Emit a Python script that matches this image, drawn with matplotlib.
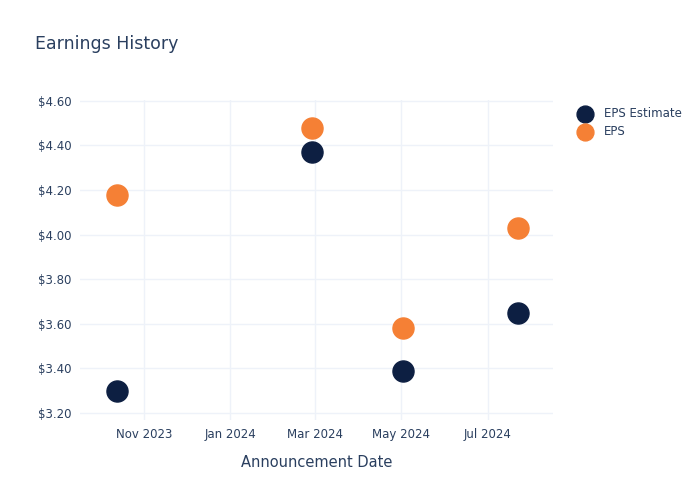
import matplotlib.pyplot as plt
import matplotlib.dates as mdates
import matplotlib.ticker as mticker
import numpy as np

dates = np.array(["2023-10-13", "2024-02-28", "2024-05-02", "2024-07-22"], dtype="datetime64[D]")
eps_estimate = [3.30, 4.37, 3.39, 3.65]
eps_actual = [4.18, 4.48, 3.58, 4.03]

text_color = "#2a3f5f"
grid_color = "#eef2f9"

fig = plt.figure(figsize=(7, 5), dpi=100)
ax = fig.add_axes([80 / 700, 80 / 500, (553 - 80) / 700, 320 / 500])

ax.scatter(dates, eps_estimate, s=230, color="#0d1f42", label="EPS Estimate", zorder=3)
ax.scatter(dates, eps_actual, s=230, color="#f58035", label="EPS", zorder=3)

ax.set_xlim(np.datetime64("2023-09-17"), np.datetime64("2024-08-16"))
ax.set_ylim(3.169, 4.604)

ax.xaxis.set_major_locator(mdates.MonthLocator(bymonth=[1, 3, 5, 7, 11]))
ax.xaxis.set_major_formatter(mdates.DateFormatter("%b %Y"))
ax.yaxis.set_major_locator(mticker.MultipleLocator(0.2))
ax.yaxis.set_major_formatter(mticker.FuncFormatter(lambda v, p: f"${v:.2f}"))

ax.grid(True, color=grid_color, linewidth=1)
ax.set_axisbelow(True)
for s in ax.spines.values():
    s.set_visible(False)
ax.tick_params(length=0, labelsize=8.5, colors=text_color, pad=6)

ax.set_xlabel("Announcement Date", fontsize=10.5, color=text_color, labelpad=10)
fig.text(35 / 700, 1 - 44 / 500, "Earnings History", fontsize=12.5, color=text_color, va="center")

ax.legend(loc="upper left", bbox_to_anchor=(1.02, 1.01), frameon=False, fontsize=8.5,
          labelcolor=text_color, handletextpad=0.6, markerscale=0.8, labelspacing=0.4)

fig.savefig("out.png", dpi=100)
